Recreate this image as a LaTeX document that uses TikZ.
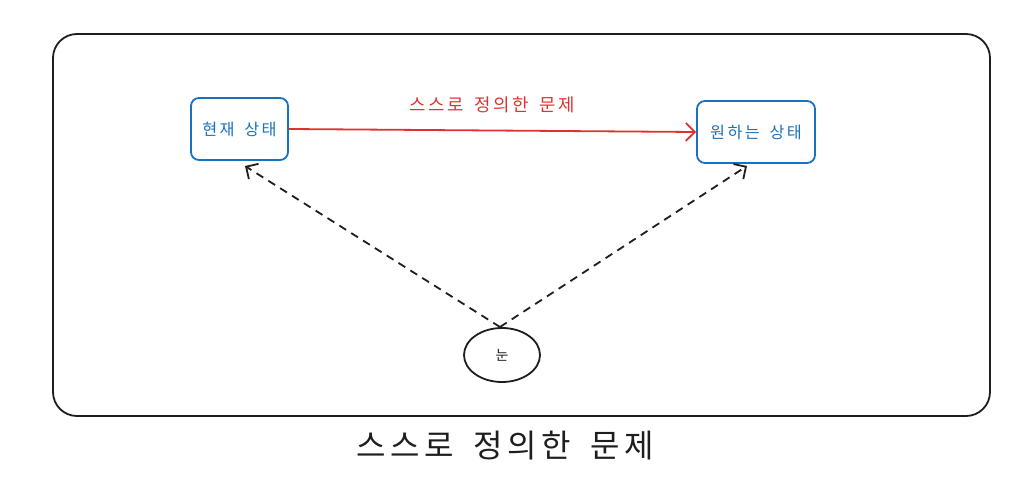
\documentclass[tikz,border=0pt]{standalone}
\usepackage{fontspec}
\setmainfont[LetterSpace=15]{Noto Sans CJK KR}
\usetikzlibrary{arrows.meta,shapes.geometric}
\definecolor{exblue}{HTML}{1971C2}
\definecolor{exred}{HTML}{E03131}
\definecolor{exblack}{HTML}{1E1E1E}
\newcommand{\wsp}{\hspace{0.6em}}
\tikzset{
  statebox/.style={draw=exblue,line width=1.8pt,rounded corners=8pt,text=exblue,font=\fontsize{16.2}{18}\selectfont,inner sep=0pt},
  dasharrow/.style={draw=exblack,line width=1.8pt,dash pattern=on 8pt off 6pt,-{Straight Barb[length=9pt,width=18pt,line width=1.8pt]}},
}
\begin{document}
\begin{tikzpicture}[x=1pt,y=-1pt]
\useasboundingbox (0,0) rectangle (1028,495);
\draw[exblack,line width=1.8pt,rounded corners=24pt] (53,34) rectangle (990,416);
\node[statebox,minimum width=97pt,minimum height=62pt] (cur) at (239.5,129) {현재\wsp 상태};
\node[statebox,minimum width=118pt,minimum height=62pt] (want) at (756,132) {원하는\wsp 상태};
\node[draw=exblack,line width=1.8pt,ellipse,minimum width=76pt,minimum height=54pt,inner sep=0pt,font=\fontsize{14}{16}\selectfont,text=exblack] (eye) at (502,355) {눈};
\draw[exred,line width=1.8pt,-{Straight Barb[length=9pt,width=18pt,line width=1.8pt]}] (cur.east) -- (want.west)
  node[midway,above=13pt,font=\fontsize{17.8}{20}\selectfont,text=exred] (lbl) {스스로\wsp 정의한\wsp 문제};
\coordinate (eyetop) at (500,327);
\draw[dasharrow] (eyetop) -- (245,166);
\draw[dasharrow] (eyetop) -- (747,166);
\node[font=\fontsize{32}{36}\selectfont,text=exblack] (title) at (505,446) {스스로\wsp 정의한\wsp 문제};
\end{tikzpicture}
\end{document}
